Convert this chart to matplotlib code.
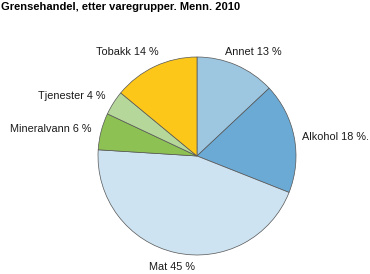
import matplotlib.pyplot as plt

plt.rcParams['font.family'] = ['Liberation Sans', 'DejaVu Sans']

categories = ['Annet', 'Alkohol', 'Mat', 'Mineralvann', 'Tjenester', 'Tobakk']
shares = [13, 18, 45, 6, 4, 14]
label_texts = ['Annet 13 %', 'Alkohol 18 %.', 'Mat 45 %', 'Mineralvann 6 %',
               'Tjenester 4 %', 'Tobakk 14 %']
colors = ['#9dc6e0', '#6aaad4', '#cde3f1', '#8dc153', '#b6d79a', '#fdc719']

fig = plt.figure(figsize=(3.7, 2.74), dpi=100)
fig.text(1 / 370, 1 - 7.5 / 274, 'Grensehandel, etter varegrupper. Menn. 2010',
         fontsize=8, fontweight='bold', va='center', ha='left')

ax = fig.add_axes([98 / 370, 19 / 274, 198 / 370, 198 / 274])
wedges, _ = ax.pie(shares, colors=colors, startangle=90, counterclock=False,
                   radius=1, wedgeprops=dict(edgecolor='#555555', linewidth=0.5))
ax.set_xlim(-1, 1)
ax.set_ylim(-1, 1)
ax.axis('off')

# label anchors (in pie radius units) and alignment
anchors = [(0.57, 1.05), (1.06, 0.19), (-0.25, -1.12), (-1.07, 0.27),
           (-0.92, 0.61), (-0.70, 1.05)]
aligns = ['center', 'left', 'center', 'right', 'right', 'center']
for txt, (x, y), ha in zip(label_texts, anchors, aligns):
    ax.text(x, y, txt, ha=ha, va='center', fontsize=7.8, color='#1a1a1a')

fig.savefig('out.png', dpi=100)
